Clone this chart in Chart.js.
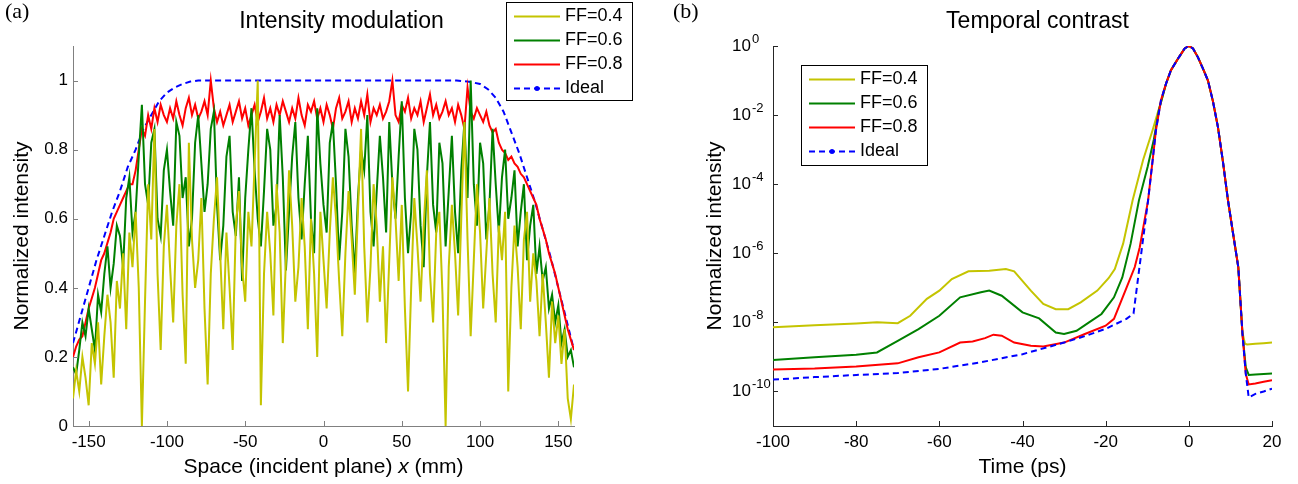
<!DOCTYPE html>
<html>
<head>
<meta charset="utf-8">
<script src="https://cdn.jsdelivr.net/npm/chart.js@4.4.1/dist/chart.umd.min.js"></script>
<style>
  html, body { margin: 0; padding: 0; background: #fff; }
  #wrap { position: relative; width: 1298px; height: 484px; }
  canvas { position: absolute; top: 0; }
  #c1 { left: 0; }
  #c2 { left: 649px; }
</style>
</head>
<body>
<div id="wrap">
  <canvas id="c1" width="649" height="484"></canvas>
  <canvas id="c2" width="649" height="484"></canvas>
</div>
<script>
const FONT = "'Liberation Sans', Arial, sans-serif";

// ---- (a) Intensity modulation: x = -160 .. 160 mm, one value every 2 mm ----
const xStart = -160;
const xStep = 2;
const ff04 = [
  0.08, 0.16, 0.10, 0.20, 0.14, 0.06, 0.24, 0.18, 0.30, 0.12,
  0.26, 0.38, 0.30, 0.14, 0.42, 0.34, 0.50, 0.28, 0.56, 0.46,
  0.62, 0.40, 0.00, 0.36, 0.70, 0.54, 0.86, 0.44, 0.22, 0.52,
  0.64, 0.46, 0.30, 0.58, 0.70, 0.38, 0.18, 0.82, 0.54, 0.40,
  0.48, 0.66, 0.34, 0.12, 0.44, 0.60, 0.72, 0.50, 0.28, 0.56,
  0.40, 0.22, 0.58, 0.68, 0.46, 0.36, 0.62, 0.52, 0.76, 1.00,
  0.06, 0.44, 0.62, 0.50, 0.32, 0.70, 0.56, 0.24, 0.48, 0.74,
  0.58, 0.36, 0.46, 0.66, 0.52, 0.28, 0.60, 0.44, 0.20, 0.62,
  0.48, 0.34, 0.56, 0.72, 0.60, 0.42, 0.26, 0.50, 0.68, 0.54,
  0.38, 0.62, 0.86, 0.52, 0.30, 0.46, 0.70, 0.58, 0.36, 0.52,
  0.24, 0.48, 0.72, 0.60, 0.42, 0.64, 0.34, 0.10, 0.40, 0.66,
  0.52, 0.36, 0.58, 0.74, 0.44, 0.30, 0.56, 0.62, 0.38, 0.00,
  0.46, 0.64, 0.50, 0.32, 0.60, 0.88, 0.54, 0.26, 0.48, 0.70,
  0.56, 0.34, 0.50, 0.66, 0.44, 0.30, 0.58, 0.48, 0.62, 0.10,
  0.40, 0.58, 0.46, 0.28, 0.54, 0.62, 0.36, 0.50, 0.42, 0.26,
  0.44, 0.30, 0.14, 0.36, 0.24, 0.32, 0.18, 0.28, 0.08, 0.02,
  0.12
];
const ff06 = [
  0.17, 0.15, 0.22, 0.30, 0.26, 0.34, 0.28, 0.22, 0.38, 0.33,
  0.44, 0.52, 0.40, 0.47, 0.58, 0.55, 0.46, 0.66, 0.72, 0.56,
  0.62, 0.78, 0.93, 0.70, 0.64, 0.82, 0.86, 0.60, 0.55, 0.74,
  0.80, 0.68, 0.58, 0.88, 0.84, 0.66, 0.72, 0.52, 0.60, 0.82,
  0.90, 0.76, 0.62, 0.70, 0.86, 0.91, 0.64, 0.48, 0.58, 0.78,
  0.84, 0.62, 0.55, 0.72, 0.42, 0.66, 0.80, 0.92, 0.74, 0.60,
  0.52, 0.68, 0.86, 0.80, 0.58, 0.64, 0.90, 0.72, 0.45, 0.62,
  0.78, 0.88, 0.66, 0.54, 0.70, 0.84, 0.60, 0.50, 0.92, 0.76,
  0.64, 0.56, 0.82, 0.88, 0.70, 0.48, 0.62, 0.86, 0.78, 0.58,
  0.44, 0.66, 0.80, 0.74, 0.90, 0.62, 0.52, 0.68, 0.84, 0.72,
  0.56, 0.88, 0.70, 0.60, 0.78, 0.94, 0.66, 0.50, 0.62, 0.86,
  0.80, 0.58, 0.46, 0.72, 0.88, 0.64, 0.56, 0.82, 0.76, 0.52,
  0.68, 0.84, 0.62, 0.50, 0.74, 0.88, 0.66, 1.00, 0.70, 0.58,
  0.82, 0.76, 0.54, 0.64, 0.86, 0.70, 0.56, 0.72, 0.80, 0.60,
  0.66, 0.74, 0.52, 0.62, 0.70, 0.48, 0.58, 0.64, 0.44, 0.52,
  0.42, 0.46, 0.34, 0.38, 0.30, 0.35, 0.24, 0.28, 0.20, 0.22,
  0.17
];
const ff08 = [
  0.20, 0.23, 0.25, 0.26, 0.30, 0.34, 0.37, 0.40, 0.44, 0.48,
  0.50, 0.53, 0.56, 0.60, 0.62, 0.64, 0.66, 0.68, 0.70, 0.70,
  0.74, 0.80, 0.86, 0.84, 0.90, 0.86, 0.92, 0.88, 0.93, 0.90,
  0.88, 0.92, 0.89, 0.94, 0.90, 0.87, 0.92, 0.95, 0.90, 0.93,
  0.89, 0.91, 0.94, 0.90, 1.00, 0.92, 0.88, 0.91, 0.87, 0.90,
  0.93, 0.88, 0.91, 0.94, 0.89, 0.92, 0.87, 0.90, 0.93, 0.88,
  0.91, 0.95, 0.89, 0.92, 0.88, 0.93, 0.90, 0.94, 0.91, 0.88,
  0.92, 0.89, 0.95, 0.90, 0.87, 0.93, 0.91, 0.94, 0.89, 0.92,
  0.88, 0.93, 0.90, 0.86, 0.92, 0.95, 0.89, 0.91, 0.94, 0.88,
  0.92, 0.89, 0.94, 0.90, 0.96, 0.88, 0.92, 0.90, 0.93, 0.89,
  0.91, 0.94, 1.00, 0.90, 0.88, 0.93, 0.91, 0.95, 0.89, 0.92,
  0.90, 0.94, 0.88, 0.92, 0.96, 0.90, 0.93, 0.89, 0.91, 0.94,
  0.90, 0.92, 0.88, 0.93, 0.90, 0.86, 0.98, 0.91, 0.89, 0.92,
  0.90, 0.88, 0.91, 0.87, 0.85, 0.86, 0.82, 0.80, 0.79, 0.77,
  0.78, 0.76, 0.75, 0.73, 0.72, 0.70, 0.68, 0.66, 0.64, 0.60,
  0.57, 0.54, 0.50, 0.47, 0.44, 0.40, 0.36, 0.32, 0.28, 0.25,
  0.22
];
const idealX = [-160, -155, -150, -145, -140, -135, -130, -125, -120, -115, -110, -105, -100, -95, -90, -85, -80, -75,
                85, 90, 95, 100, 105, 110, 115, 120, 125, 130, 135, 140, 145, 150, 155, 160];
const idealY = [0.24, 0.32, 0.40, 0.48, 0.55, 0.62, 0.68, 0.75, 0.80, 0.86, 0.90, 0.94, 0.965, 0.98, 0.99, 0.997, 1.0, 1.0,
                1.0, 0.998, 0.995, 0.99, 0.975, 0.95, 0.91, 0.85, 0.79, 0.72, 0.65, 0.57, 0.49, 0.40, 0.31, 0.22];

// ---- (b) Temporal contrast ----
const t04 = [-100, -90, -80, -75, -70, -67, -63, -60, -57, -53, -48, -44, -42, -38, -35, -32, -29, -26, -22, -19.3,
             -17.8, -15.8, -13.5, -11, -8.7, -6.5, -5.5, -4.3, -2.4, -1, 0, 1, 2.2, 3.4, 4.6, 5.8, 7, 8.2, 9.4, 10.6,
             11.9, 12.9, 13.5, 14, 16, 18, 20];
const c04 = [7.2e-9, 8.2e-9, 9.3e-9, 1.0e-8, 9.5e-9, 1.55e-8, 4.8e-8, 8.3e-8, 1.8e-7, 3.0e-7,
             3.1e-7, 3.5e-7, 3.0e-7, 8.3e-8, 3.4e-8, 2.4e-8, 2.4e-8, 3.8e-8, 8.3e-8, 1.9e-7,
             3.5e-7, 1.9e-6, 3.5e-5, 5e-4, 3.7e-3, 2.9e-2, 8e-2, 0.2, 0.47, 0.85,
             1, 0.85, 0.47, 0.22, 0.1, 0.025, 4.5e-3, 4.5e-4, 3.5e-5, 4e-6,
             3.9e-7, 5e-9, 2.4e-9, 2.3e-9, 2.4e-9, 2.5e-9, 2.6e-9];
const t06 = [-100, -90, -80, -75, -70, -65, -60, -55, -50, -48, -45, -40, -36, -32, -30, -27, -24, -21, -18, -16,
             -14, -12, -9.9, -8.4, -7.2, -5.5, -4.3, -2.4, -1, 0, 1, 2.2, 3.4, 4.6, 5.8, 7, 8.2, 9.4, 10.6, 11.9,
             12.9, 13.7, 14.4, 16, 18, 20];
const c06 = [8.1e-10, 9.7e-10, 1.15e-9, 1.35e-9, 2.9e-9, 6.4e-9, 1.55e-8, 5.3e-8, 7.4e-8, 8.3e-8,
             5.9e-8, 1.95e-8, 1.3e-8, 5.1e-9, 4.6e-9, 5.7e-9, 1.0e-8, 1.75e-8, 5.3e-8, 2.0e-7,
             1.9e-6, 3.4e-5, 3.2e-4, 2.0e-3, 1.4e-2, 8e-2, 0.2, 0.47, 0.85, 1,
             0.85, 0.47, 0.22, 0.1, 0.025, 4.5e-3, 4.5e-4, 3.5e-5, 4e-6, 3.9e-7,
             4.6e-9, 5e-10, 3.0e-10, 3.1e-10, 3.2e-10, 3.3e-10];
const t08 = [-100, -90, -80, -70, -65, -60, -55, -52, -49, -47, -45, -42, -38, -35, -30, -25, -20, -18, -15, -13,
             -11.8, -9.8, -8.7, -7.9, -6.7, -5.5, -4.3, -2.4, -1, 0, 1, 2.2, 3.4, 4.6, 5.8, 7, 8.2, 9.4, 10.6, 11.9,
             12.9, 13.7, 14.4, 16, 18, 20];
const c08 = [4.3e-10, 4.6e-10, 5.3e-10, 6.5e-10, 9.8e-10, 1.35e-9, 2.6e-9, 2.8e-9, 3.5e-9, 4.4e-9,
             4.1e-9, 2.6e-9, 2.1e-9, 2.0e-9, 2.6e-9, 4.6e-9, 8.0e-9, 1.26e-8, 1.0e-7, 4.0e-7,
             1.5e-6, 3.4e-5, 5e-4, 3.7e-3, 2.7e-2, 8e-2, 0.2, 0.47, 0.85, 1,
             0.85, 0.47, 0.22, 0.1, 0.025, 4.5e-3, 4.5e-4, 3.5e-5, 4e-6, 3.9e-7,
             4.6e-9, 3.2e-10, 1.6e-10, 1.7e-10, 1.9e-10, 2.1e-10];
const tIdeal = [-100, -90, -80, -70, -60, -50, -40, -30, -25, -20, -15, -13.3, -12, -11, -9.8, -8.7, -7.9, -6.7, -5.5, -4.3,
                -2.4, -1, 0, 1, 2.2, 3.4, 4.6, 5.8, 7, 8.2, 9.4, 10.6, 11.9, 12.9, 13.7, 14.4, 16, 18, 20];
const cIdeal = [2.2e-10, 2.6e-10, 3.0e-10, 3.4e-10, 4.5e-10, 7.0e-10, 1.2e-9, 2.6e-9, 4.0e-9, 6.5e-9,
                1.26e-8, 1.8e-8, 3e-7, 2.6e-6, 3.4e-5, 5e-4, 3.7e-3, 2.7e-2, 8e-2, 0.2,
                0.47, 0.85, 1, 0.85, 0.47, 0.22, 0.1, 0.025, 4.5e-3, 4.5e-4,
                3.5e-5, 4e-6, 3.9e-7, 4.6e-9, 3.2e-10, 6.7e-11, 8.5e-11, 1.0e-10, 1.2e-10];
const decadeTicks = [1e-10, 1e-8, 1e-6, 1e-4, 1e-2, 1];

const YELLOW = '#c4c400', GREEN = '#008000', RED = '#ff0000', BLUE = '#0000ff';

function pts(xs, ys) { return xs.map((x, i) => ({ x: x, y: ys[i] })); }
function evenPts(ys) { return ys.map((y, i) => ({ x: xStart + xStep * i, y: y })); }

// panel letter, title, inward ticks, x title, boxed legend
const decor = {
    id: 'decor',
    afterDraw(chart, args, opts) {
        const ctx = chart.ctx;
        const area = chart.chartArea;
        const xs = chart.scales.x, ys = chart.scales.y;
        ctx.save();

        // MATLAB style ticks pointing into the plot
        ctx.strokeStyle = opts.axisColor;
        ctx.lineWidth = 1;
        ctx.beginPath();
        xs.ticks.forEach(t => {
            const px = Math.round(xs.getPixelForValue(t.value)) + 0.5;
            ctx.moveTo(px, area.bottom);
            ctx.lineTo(px, area.bottom - 5);
        });
        ys.ticks.forEach(t => {
            const py = Math.round(ys.getPixelForValue(t.value)) + 0.5;
            ctx.moveTo(area.left, py);
            ctx.lineTo(area.left + 5, py);
        });
        ctx.stroke();

        ctx.fillStyle = '#000';
        // 10^n labels for the log axis
        if (opts.powerLabels) {
            ys.ticks.forEach(t => {
                const py = ys.getPixelForValue(t.value);
                const e = Math.round(Math.log10(t.value));
                ctx.font = '17px ' + FONT;
                ctx.textAlign = 'right';
                ctx.textBaseline = 'middle';
                ctx.fillText('10', area.left - 22, py);
                ctx.font = '13px ' + FONT;
                ctx.textAlign = 'left';
                ctx.textBaseline = 'alphabetic';
                ctx.fillText(String(e), area.left - 21, py - 3);
            });
        }

        // panel letter
        ctx.font = '22px "Liberation Serif", "Times New Roman", serif';
        ctx.textAlign = 'left';
        ctx.textBaseline = 'alphabetic';
        ctx.fillText(opts.panel, opts.panelX, 18);

        // title
        ctx.font = '23px ' + FONT;
        ctx.textAlign = 'center';
        ctx.fillText(opts.title, (area.left + area.right) / 2 + opts.titleShift, 28);

        // x axis title (may contain an italic part)
        ctx.textAlign = 'left';
        let total = 0;
        opts.xTitle.forEach(p => {
            ctx.font = (p[1] ? 'italic ' : '') + '21px ' + FONT;
            total += ctx.measureText(p[0]).width;
        });
        let cx = (area.left + area.right) / 2 - total / 2;
        opts.xTitle.forEach(p => {
            ctx.font = (p[1] ? 'italic ' : '') + '21px ' + FONT;
            ctx.fillText(p[0], cx, 473);
            cx += ctx.measureText(p[0]).width;
        });

        // legend box
        const L = opts.legend;
        ctx.fillStyle = '#fff';
        ctx.fillRect(L.x, L.y, L.w, L.h);
        ctx.strokeStyle = '#000';
        ctx.lineWidth = 1;
        ctx.strokeRect(L.x + 0.5, L.y + 0.5, L.w, L.h);
        ctx.font = '18px ' + FONT;
        ctx.textBaseline = 'middle';
        chart.data.datasets.forEach((ds, i) => {
            const y = L.y + 14.5 + 24 * i;
            ctx.strokeStyle = ds.borderColor;
            ctx.lineWidth = 2;
            ctx.setLineDash(ds.borderDash || []);
            ctx.beginPath();
            ctx.moveTo(L.x + 8, y);
            ctx.lineTo(L.x + 54, y);
            ctx.stroke();
            ctx.setLineDash([]);
            if (ds.borderDash) {
                ctx.fillStyle = ds.borderColor;
                ctx.beginPath();
                ctx.arc(L.x + 31, y, 2.5, 0, Math.PI * 2);
                ctx.fill();
            }
            ctx.fillStyle = '#000';
            ctx.fillText(ds.label, L.x + 59, y);
        });
        ctx.restore();
    }
};

const tickFont = { size: 17, family: FONT };

new Chart(document.getElementById('c1'), {
    type: 'line',
    data: {
        datasets: [
            { label: 'FF=0.4', data: evenPts(ff04), borderColor: YELLOW },
            { label: 'FF=0.6', data: evenPts(ff06), borderColor: GREEN },
            { label: 'FF=0.8', data: evenPts(ff08), borderColor: RED },
            { label: 'Ideal', data: pts(idealX, idealY), borderColor: BLUE, borderDash: [6, 4] },
        ],
    },
    options: {
        responsive: false,
        animation: false,
        layout: { padding: { left: 0, right: 75, top: 46, bottom: 0 } },
        elements: {
            point: { radius: 0 },
            line: { borderWidth: 2, tension: 0 },
        },
        plugins: {
            legend: { display: false },
            tooltip: { enabled: false },
            decor: {
                panel: '(a)', panelX: 5, title: 'Intensity modulation', titleShift: 18,
                axisColor: '#808080',
                xTitle: [['Space (incident plane) ', false], ['x', true], [' (mm)', false]],
                legend: { x: 506, y: 2, w: 126, h: 98 },
            },
        },
        scales: {
            x: {
                type: 'linear', min: -160, max: 160,
                grid: { display: false, drawTicks: false },
                border: { color: '#808080' },
                ticks: { stepSize: 50, includeBounds: false, color: '#000', font: tickFont, padding: 6, maxRotation: 0 },
                afterFit: s => { s.height = 58; },
            },
            y: {
                min: 0, max: 1.1,
                grid: { display: false, drawTicks: false },
                border: { color: '#808080' },
                ticks: {
                    stepSize: 0.2, includeBounds: false, color: '#000', font: tickFont, padding: 5,
                    callback: v => String(Math.round(v * 10) / 10),
                },
                title: {
                    display: true, text: 'Normalized intensity', color: '#000',
                    font: { size: 21, family: FONT }, padding: { top: 10, bottom: 0 },
                },
                afterFit: s => { s.width = 73; },
            },
        },
    },
    plugins: [decor],
});

new Chart(document.getElementById('c2'), {
    type: 'line',
    data: {
        datasets: [
            { label: 'FF=0.4', data: pts(t04, c04), borderColor: YELLOW, order: 3 },
            { label: 'FF=0.6', data: pts(t06, c06), borderColor: GREEN, order: 2 },
            { label: 'FF=0.8', data: pts(t08, c08), borderColor: RED, order: 1 },
            { label: 'Ideal', data: pts(tIdeal, cIdeal), borderColor: BLUE, borderDash: [6, 4], order: 0 },
        ],
    },
    options: {
        responsive: false,
        animation: false,
        layout: { padding: { left: 0, right: 26, top: 46, bottom: 0 } },
        elements: {
            point: { radius: 0 },
            line: { borderWidth: 2, tension: 0 },
        },
        plugins: {
            legend: { display: false },
            tooltip: { enabled: false },
            decor: {
                panel: '(b)', panelX: 24, title: 'Temporal contrast', titleShift: 15,
                axisColor: '#262626', powerLabels: true,
                xTitle: [['Time (ps)', false]],
                legend: { x: 152, y: 65, w: 126, h: 100 },
            },
        },
        scales: {
            x: {
                type: 'linear', min: -100, max: 20,
                grid: { display: false, drawTicks: false },
                border: { color: '#262626' },
                ticks: { stepSize: 20, color: '#000', font: tickFont, padding: 6, maxRotation: 0 },
                afterFit: s => { s.height = 58; },
            },
            y: {
                type: 'logarithmic', min: 1e-11, max: 1,
                grid: { display: false, drawTicks: false },
                border: { color: '#262626' },
                ticks: { display: false },
                afterBuildTicks: s => { s.ticks = decadeTicks.map(v => ({ value: v })); },
                title: {
                    display: true, text: 'Normalized intensity', color: '#000',
                    font: { size: 21, family: FONT }, padding: { top: 54, bottom: 0 },
                },
                afterFit: s => { s.width = 124; },
            },
        },
    },
    plugins: [decor],
});
</script>
</body>
</html>
